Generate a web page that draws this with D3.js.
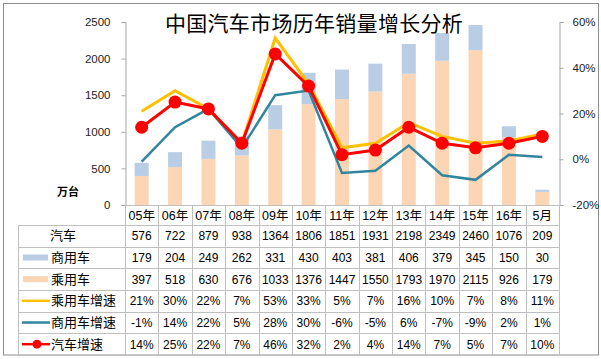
<!DOCTYPE html>
<html><head><meta charset="utf-8">
<script src="https://cdn.jsdelivr.net/npm/d3@7"></script>
<style>
html,body{margin:0;padding:0;background:#fff;}
svg{display:block;}
text{font-family:"Liberation Sans","Noto Sans CJK SC",sans-serif;}
</style></head>
<body>
<script>
const categories = ["05年","06年","07年","08年","09年","10年","11年","12年","13年","14年","15年","16年","5月"];
const totalCars   = [576,722,879,938,1364,1806,1851,1931,2198,2349,2460,1076,209];
const commercial  = [179,204,249,262,331,430,403,381,406,379,345,150,30];
const passenger   = [397,518,630,676,1033,1376,1447,1550,1793,1970,2115,926,179];
const passGrowth  = [21,30,22,7,53,33,5,7,16,10,7,8,11];
const commGrowth  = [-1,14,22,5,28,30,-6,-5,6,-7,-9,2,1];
const totalGrowth = [14,25,22,7,46,32,2,4,14,7,5,7,10];
const leftTicks = [0,500,1000,1500,2000,2500];
const rightTicks = [-20,0,20,40,60];
const title = "中国汽车市场历年销量增长分析";
const unitLabel = "万台";

const W=601,H=359;
const svg=d3.select("body").append("svg").attr("width",W).attr("height",H);
const plotL=125, plotR=559, plotT=22, plotB=205;
const x=d3.scaleBand().domain(categories).range([plotL,plotR]);
const yL=d3.scaleLinear().domain([0,2500]).range([plotB,plotT]);
const yR=d3.scaleLinear().domain([-20,60]).range([plotB,plotT]);

// outer border
svg.append("rect").attr("x",3.5).attr("y",3.5).attr("width",595).attr("height",351.5)
  .attr("fill","#fff").attr("stroke","#8c8c8c").attr("stroke-width",1);

const blue="#b9cde5", peach="#fcd5b5", orange="#ffc000", teal="#31859c", red="#ff0000";
const bw=14;
// bars
const g=svg.append("g");
g.selectAll(".p").data(categories).enter().append("rect")
  .attr("x",d=>x(d)+x.bandwidth()/2-bw/2).attr("width",bw)
  .attr("y",(d,i)=>yL(passenger[i])).attr("height",(d,i)=>yL(0)-yL(passenger[i])).attr("fill",peach);
g.selectAll(".c").data(categories).enter().append("rect")
  .attr("x",d=>x(d)+x.bandwidth()/2-bw/2).attr("width",bw)
  .attr("y",(d,i)=>yL(passenger[i]+commercial[i])).attr("height",(d,i)=>yL(0)-yL(commercial[i])).attr("fill",blue);

// axes
const axL=d3.axisLeft(yL).tickValues(leftTicks).tickSize(4).tickPadding(11).tickFormat(d=>String(d));
const gl=svg.append("g").attr("transform",`translate(${plotL+0.5},0)`).call(axL);
const axR=d3.axisRight(yR).tickValues(rightTicks).tickSize(4).tickPadding(9).tickFormat(d=>d+"%");
const gr=svg.append("g").attr("transform",`translate(${plotR+0.5},0)`).call(axR);
[gl,gr].forEach(a=>{a.select(".domain").attr("stroke","#a6a6a6");
  a.selectAll(".tick line").attr("stroke","#a6a6a6");
  a.selectAll("text").attr("font-size",11.5).attr("fill","#222").attr("font-family","Liberation Sans");});

// lines
const cx=d=>x(d)+x.bandwidth()/2;
function drawLine(vals,color,w){
  svg.append("path").datum(vals).attr("fill","none").attr("stroke",color).attr("stroke-width",w)
    .attr("stroke-linejoin","miter")
    .attr("d",d3.line().x((v,i)=>cx(categories[i])).y(v=>yR(v)));
}
drawLine(passGrowth,orange,3);
drawLine(commGrowth,teal,2.5);
drawLine(totalGrowth,red,3);
svg.selectAll(".m").data(totalGrowth).enter().append("circle")
  .attr("cx",(v,i)=>cx(categories[i])).attr("cy",v=>yR(v)).attr("r",6.5).attr("fill",red);

// title
svg.append("text").attr("x",314).attr("y",31).attr("text-anchor","middle")
  .attr("font-size",21).attr("letter-spacing",0.3).attr("font-family","Noto Sans CJK SC").attr("fill","#000").text(title);
svg.append("text").attr("x",68).attr("y",196).attr("text-anchor","middle")
  .attr("font-size",11).attr("font-weight","bold").attr("font-family","Noto Sans CJK SC").text(unitLabel);

// table
const rowH=21.67, tTop=225, tLeft=18.5;
const rows=[
  {label:"汽车",vals:totalCars.map(String),key:"none"},
  {label:"商用车",vals:commercial.map(String),key:"blue"},
  {label:"乘用车",vals:passenger.map(String),key:"peach"},
  {label:"乘用车增速",vals:passGrowth.map(v=>v+"%"),key:"orange"},
  {label:"商用车增速",vals:commGrowth.map(v=>v+"%"),key:"teal"},
  {label:"汽车增速",vals:totalGrowth.map(v=>v+"%"),key:"red"}];
const grid=svg.append("g").attr("stroke","#bfbfbf").attr("stroke-width",1);
grid.append("line").attr("x1",plotL).attr("x2",plotR).attr("y1",plotB+0.5).attr("y2",plotB+0.5);
for(let r=0;r<=rows.length;r++){
  const yy=Math.round(tTop+r*rowH)+0.5;
  grid.append("line").attr("x1",tLeft).attr("x2",plotR).attr("y1",yy).attr("y2",yy);
}
grid.append("line").attr("x1",tLeft).attr("x2",tLeft).attr("y1",tTop).attr("y2",tTop+rows.length*rowH);
categories.forEach((c,i)=>{
  const xx=Math.round(x(c)+x.bandwidth())+0.5;
  grid.append("line").attr("x1",xx).attr("x2",xx).attr("y1",plotB).attr("y2",tTop+rows.length*rowH);
});
grid.append("line").attr("x1",plotL+0.5).attr("x2",plotL+0.5).attr("y1",plotB).attr("y2",tTop+rows.length*rowH);

// category labels
svg.selectAll(".cat").data(categories).enter().append("text")
  .attr("x",d=>cx(d)).attr("y",220).attr("text-anchor","middle").attr("font-size",12.5).attr("fill","#000").text(d=>d);

rows.forEach((r,ri)=>{
  const ym=tTop+ri*rowH+rowH/2;
  svg.selectAll(".v"+ri).data(r.vals).enter().append("text")
    .attr("x",(d,i)=>cx(categories[i])).attr("y",ym+4.5).attr("text-anchor","middle")
    .attr("font-size",12).attr("fill","#000").text(d=>d);
  svg.append("text").attr("x",r.key==="none"?50:51).attr("y",ym+4.5).attr("font-size",13)
    .attr("font-family","Noto Sans CJK SC").attr("fill","#000").text(r.label);
  if(r.key==="blue"||r.key==="peach"){
    svg.append("rect").attr("x",23).attr("y",ym-3).attr("width",25).attr("height",6).attr("fill",r.key==="blue"?blue:peach);
  } else if(r.key==="orange"||r.key==="teal"){
    svg.append("line").attr("x1",22).attr("x2",50).attr("y1",ym).attr("y2",ym)
      .attr("stroke",r.key==="orange"?orange:teal).attr("stroke-width",2.5);
  } else if(r.key==="red"){
    svg.append("line").attr("x1",22).attr("x2",50).attr("y1",ym).attr("y2",ym).attr("stroke",red).attr("stroke-width",2.5);
    svg.append("circle").attr("cx",37).attr("cy",ym).attr("r",4.5).attr("fill",red);
  }
});
</script>
</body></html>
